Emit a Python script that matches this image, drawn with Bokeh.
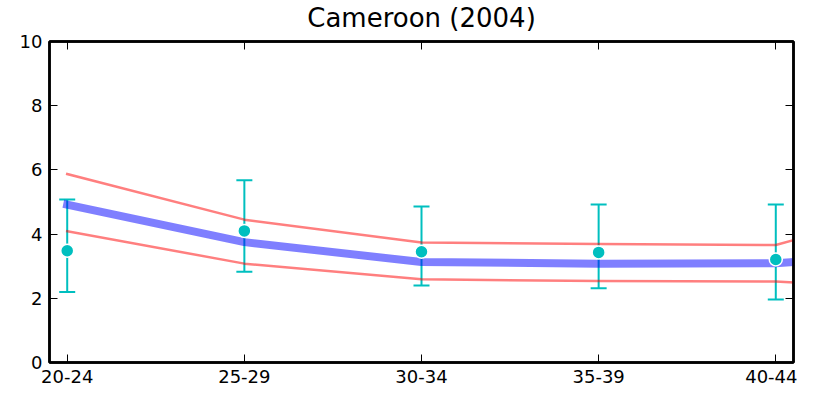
from bokeh.plotting import figure
from bokeh.models import (LinearAxis, FixedTicker, Whisker, ColumnDataSource,
                          TeeHead, Range1d)
from bokeh.embed import file_html
from bokeh.resources import INLINE

# --- data -------------------------------------------------------------
age_groups = ["20-24", "25-29", "30-34", "35-39", "40-44"]
obs_value = [3.48, 4.10, 3.45, 3.43, 3.21]
obs_upper = [5.08, 5.68, 4.86, 4.92, 4.92]
obs_lower = [2.20, 2.83, 2.40, 2.31, 1.96]

fit_groups = ["20-24", "25-29", "30-34", "35-39", "40-44", "45-49"]
fit_mid = [4.92, 3.75, 3.13, 3.08, 3.09, 3.50]
fit_upper = [5.87, 4.45, 3.74, 3.69, 3.66, 5.20]
fit_lower = [4.09, 3.08, 2.59, 2.54, 2.52, 2.25]

title_text = "Cameroon (2004)"
y_ticks = [0, 2, 4, 6, 8, 10]

# --- figure -----------------------------------------------------------
FONT = "DejaVu Sans"
CYAN = "#00bfbf"

obs_x = list(range(len(age_groups)))
fit_x = list(range(len(fit_groups)))

p = figure(frame_width=744, frame_height=321,
           x_range=Range1d(-0.1, len(age_groups) - 1 + 0.1),
           y_range=Range1d(0, 10),
           output_backend="svg", toolbar_location=None,
           min_border_left=49, min_border_right=4,
           min_border_top=33, min_border_bottom=0,
           title=title_text)
p.styles = {"margin-top": "-8px"}

p.title.align = "center"
p.title.text_font = FONT
p.title.text_font_size = "26px"
p.title.text_font_style = "normal"
p.title.text_color = "black"
p.title.standoff = 17
p.title.offset = 0

p.grid.visible = False
p.outline_line_color = "black"
p.outline_line_width = 2.5
p.background_fill_color = "white"
p.border_fill_color = "white"

x_ticker = FixedTicker(ticks=obs_x)
y_ticker = FixedTicker(ticks=y_ticks)
labels = {i: a for i, a in enumerate(age_groups)}


def style_axis(ax, show_labels=True):
    ax.major_tick_in = 8
    ax.major_tick_out = 0
    ax.minor_tick_in = 0
    ax.minor_tick_out = 0
    ax.major_tick_line_color = "black"
    ax.major_tick_line_width = 1
    ax.axis_line_color = "black"
    ax.axis_line_width = 2.5
    ax.major_label_text_font = FONT
    if show_labels:
        ax.major_label_text_font_size = "18px"
        ax.major_label_standoff = 7
        ax.major_label_text_color = "black"
    else:
        ax.major_label_text_font_size = "1px"
        ax.major_label_standoff = 0


p.xaxis.ticker = x_ticker
p.xaxis.major_label_overrides = labels
style_axis(p.xaxis[0])
p.yaxis.ticker = y_ticker
style_axis(p.yaxis[0])

right_ax = LinearAxis(ticker=y_ticker)
style_axis(right_ax, show_labels=False)
right_ax.major_label_overrides = {t: "" for t in y_ticks}
p.add_layout(right_ax, "right")

top_ax = LinearAxis(ticker=x_ticker)
style_axis(top_ax, show_labels=False)
top_ax.major_label_overrides = {i: "" for i in obs_x}
p.add_layout(top_ax, "above")

# error bars
err_src = ColumnDataSource(dict(x=obs_x, upper=obs_upper, lower=obs_lower))
whisk = Whisker(source=err_src, base="x", upper="upper", lower="lower",
                line_color=CYAN, line_width=2,
                upper_head=TeeHead(size=16, line_color=CYAN, line_width=2),
                lower_head=TeeHead(size=16, line_color=CYAN, line_width=2))
p.add_layout(whisk)

# fitted lines
for vals in (fit_upper, fit_lower):
    p.line(fit_x, vals, line_color="red", line_alpha=0.5, line_width=2.5,
           line_cap="square", line_join="round")
p.line(fit_x, fit_mid, line_color="blue", line_alpha=0.5, line_width=8,
       line_cap="square", line_join="round")

# observed points
p.scatter(obs_x, obs_value, size=13, fill_color=CYAN, line_color="white",
          line_width=1.5)

open("out.html", "w").write(file_html(p, INLINE))
